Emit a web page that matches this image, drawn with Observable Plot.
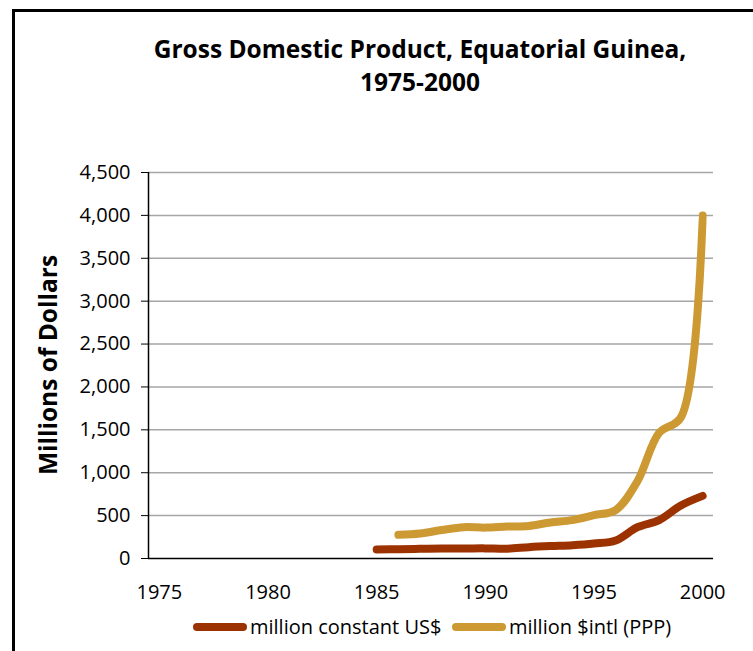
<!DOCTYPE html>
<html><head><meta charset="utf-8">
<script src="https://cdn.jsdelivr.net/npm/d3@7"></script>
<script src="https://cdn.jsdelivr.net/npm/@observablehq/plot@0.6"></script>
<style>
body{margin:0;background:#fff;}
#wrap{position:relative;width:753px;height:651px;overflow:hidden;font-family:"Open Sans",sans-serif;color:#000;}
#frame{position:absolute;left:12px;top:9px;width:800px;height:700px;border:3px solid #000;box-sizing:border-box;}
#title{position:absolute;left:120px;width:600px;top:32px;text-align:center;font-weight:bold;font-size:24.5px;line-height:33px;}
#ytitle{position:absolute;left:47px;top:365px;transform:translate(-50%,-50%) rotate(-90deg);white-space:nowrap;font-weight:bold;font-size:24.5px;}
#chart{position:absolute;left:0;top:0;}
.leg{position:absolute;top:614px;font-size:20px;line-height:26px;white-space:nowrap;}
.sw{position:absolute;height:8px;border-radius:4px;top:623px;}
</style></head>
<body><div id="wrap">
<div id="frame"></div>
<div id="chart"></div>
<div id="title">Gross Domestic Product, Equatorial Guinea,<br>1975-2000</div>
<div id="ytitle">Millions of Dollars</div>
<div id="legend"></div>
</div>
<script>
const years = d3.range(1975, 2001);
const seriesNames = ["million constant US$", "million $intl (PPP)"];
const seriesColors = ["#9c3200", "#cc9933"];
const constantYears = [1985,1986,1987,1988,1989,1990,1991,1992,1993,1994,1995,1996,1997,1998,1999,2000];
const constantUSD = [105,108,113,117,117,118,114,132,145,155,175,210,365,448,618,730];
const pppYears = [1986,1987,1988,1989,1990,1991,1992,1993,1994,1995,1996,1997,1998,1999,2000];
const pppIntl = [276,291,332,365,360,372,380,420,447,505,565,900,1465,1645,4000];
const yTicks = [0,500,1000,1500,2000,2500,3000,3500,4000,4500];
const xTicks = [1975,1980,1985,1990,1995,2000];

const data = [
  ...constantYears.map((y,i)=>({year:y, value:constantUSD[i], series:seriesNames[0]})),
  ...pppYears.map((y,i)=>({year:y, value:pppIntl[i], series:seriesNames[1]}))
];

const chart = Plot.plot({
  width: 753, height: 651,
  marginLeft: 148, marginRight: 40, marginTop: 172, marginBottom: 93,
  style: {fontFamily: '"Open Sans", sans-serif', fontSize: "20px", color: "#000", background: "transparent"},
  x: {domain: [years[0]-0.5, years[years.length-1]+0.5]},
  y: {domain: [0, 4500]},
  color: {domain: seriesNames, range: seriesColors},
  marks: [
    Plot.ruleY(yTicks.filter(d=>d>0), {stroke: "#a6a6a6", strokeWidth: 1.5, strokeOpacity: 1}),
    Plot.axisY({ticks: yTicks, tickFormat: d3.format(","), tickSize: 7, tickPadding: 11, label: null, stroke: "#000", fontSize: 20}),
    Plot.axisX({ticks: xTicks, tickFormat: d=>String(d), tickSize: 0, tickPadding: 26, label: null, fontSize: 20}),
    Plot.ruleX([years[0]-0.5], {stroke: "#000", strokeWidth: 1.5}),
    Plot.ruleY([0], {stroke: "#000", strokeWidth: 1.5}),
    Plot.line(data, {x: "year", y: "value", z: "series", stroke: "series", strokeWidth: 8, strokeLinecap: "round", strokeLinejoin: "round", curve: "catmull-rom"})
  ]
});
document.getElementById("chart").appendChild(chart);

const leg = document.getElementById("legend");
const legPos = [[193, 250], [452, 509]];
seriesNames.forEach((n,i)=>{
  const sw = document.createElement("div");
  sw.className = "sw"; sw.style.left = legPos[i][0]+"px"; sw.style.width = "54px"; sw.style.background = seriesColors[i];
  leg.appendChild(sw);
  const t = document.createElement("div");
  t.className = "leg"; t.style.left = legPos[i][1]+"px"; t.textContent = n;
  leg.appendChild(t);
});
</script>
</body></html>
